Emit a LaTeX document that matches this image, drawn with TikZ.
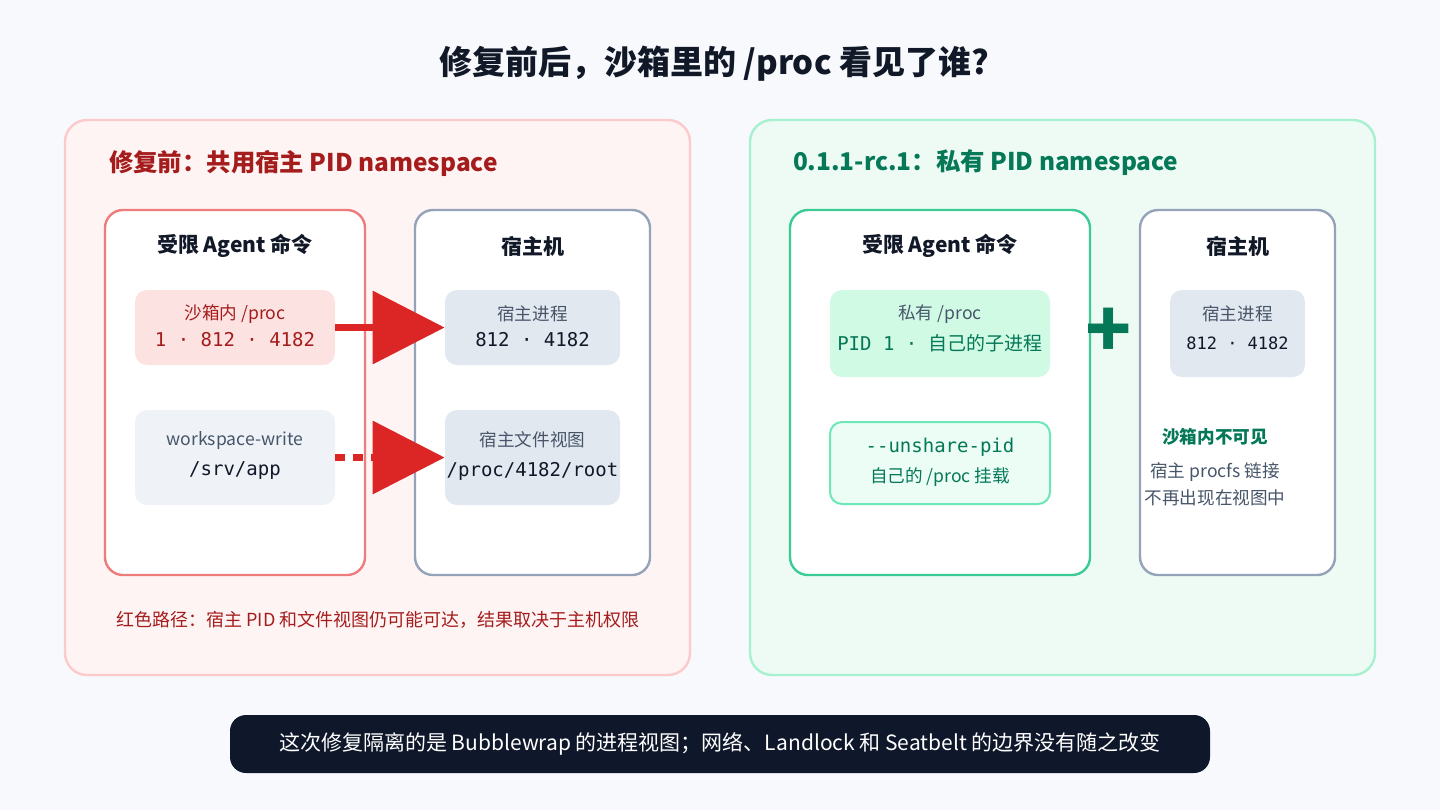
\documentclass[tikz,border=0pt]{standalone}
\usepackage{fontspec}
\setmainfont{Noto Sans CJK SC}
\setmonofont{DejaVu Sans Mono}
\usetikzlibrary{arrows.meta}
\definecolor{pagebg}{HTML}{F7F9FC}
\definecolor{inkdark}{HTML}{111827}
\definecolor{inkgray}{HTML}{475569}
\definecolor{redfill}{HTML}{FFF4F4}
\definecolor{redline}{HTML}{FCCACA}
\definecolor{redbox}{HTML}{EF7C7C}
\definecolor{redsoft}{HTML}{FDE2E2}
\definecolor{redtext}{HTML}{A51C1C}
\definecolor{redarrow}{HTML}{DC2626}
\definecolor{greenfill}{HTML}{EEFBF5}
\definecolor{greenline}{HTML}{A7F0D0}
\definecolor{greenbox}{HTML}{3CCB95}
\definecolor{greensoft}{HTML}{D1FAE5}
\definecolor{greenpale}{HTML}{ECFDF5}
\definecolor{greenedge}{HTML}{6EE7B7}
\definecolor{greentext}{HTML}{047857}
\definecolor{slateline}{HTML}{94A3B8}
\definecolor{slatesoft}{HTML}{E2E8F0}
\definecolor{slatepale}{HTML}{EFF3F8}
\definecolor{barfill}{HTML}{0F172A}
\tikzstyle{panel} = [rectangle, rounded corners=11pt, line width=1.2pt, minimum width=312.5pt, minimum height=277.5pt]
\tikzstyle{box} = [rectangle, rounded corners=9pt, line width=1.2pt, fill=white, minimum height=182.5pt]
\tikzstyle{chip} = [rectangle, rounded corners=6pt, draw=none]
\tikzstyle{heading} = [font=\fontsize{10.5}{12}\selectfont\bfseries, text=inkdark]
\tikzstyle{small} = [font=\fontsize{8.8}{10}\selectfont]
\tikzstyle{code} = [font=\fontsize{9.5}{11}\selectfont\ttfamily]
\tikzstyle{leak} = [redarrow, line width=3.5pt, -{Triangle[length=36pt, width=36pt]}]
\begin{document}
\begin{tikzpicture}[x=0.5pt, y=-0.5pt]

	% Canvas
	\fill[pagebg] (0,0) rectangle (1440,810);
	\useasboundingbox (0,0) rectangle (1440,810);
	\node (title) [font=\fontsize{16.5}{19}\selectfont\bfseries, text=inkdark] at (714,64) {修复前后，沙箱里的 /proc 看见了谁?};

	% Before the fix
	\node (before) [panel, draw=redline, fill=redfill] at (377.5,397.5) {};
	\node (beforehead) [anchor=west, font=\fontsize{12.2}{14}\selectfont\bfseries, text=redtext] at (102,163) {修复前：共用宿主 PID namespace};
	\node (agentL) [box, draw=redbox, minimum width=130pt] at (235,392.5) {};
	\node (hostL) [box, draw=slateline, minimum width=117.5pt] at (532.5,392.5) {};
	\node [heading] at (235,246) {受限 Agent 命令};
	\node [heading] at (532.5,246) {宿主机};

	\node (sbproc) [chip, fill=redsoft, minimum width=100pt, minimum height=37.5pt] at (235,327.5) {};
	\node [small, text=redtext] at (235,314) {沙箱内 /proc};
	\node [code, text=redtext] at (235,340) {1 · 812 · 4182};
	\node (wsw) [chip, fill=slatepale, minimum width=100pt, minimum height=47.5pt] at (235,457.5) {};
	\node [small, text=inkgray] at (235,440) {workspace-write};
	\node [code, text=inkdark] at (235,471) {/srv/app};

	\node (hostproc) [chip, fill=slatesoft, minimum width=87.5pt, minimum height=37.5pt] at (532.5,327.5) {};
	\node [small, text=inkgray] at (532.5,314) {宿主进程};
	\node [code, text=inkdark] at (532.5,340) {812 · 4182};
	\node (hostfile) [chip, fill=slatesoft, minimum width=87.5pt, minimum height=47.5pt] at (532.5,457.5) {};
	\node [small, text=inkgray] at (532.5,440) {宿主文件视图};
	\node [code, text=inkdark] at (532.5,471) {/proc/4182/root};

	\draw[leak] (sbproc.east) -- (hostproc.west);
	\draw[leak, dash pattern=on 5pt off 4pt] (wsw.east) -- (hostfile.west);

	\node [font=\fontsize{9}{10}\selectfont, text=redtext] at (378,620) {红色路径：宿主 PID 和文件视图仍可能可达，结果取决于主机权限};

	% After the fix
	\node (after) [panel, draw=greenline, fill=greenfill] at (1062.5,397.5) {};
	\node (afterhead) [anchor=west, font=\fontsize{12.2}{14}\selectfont\bfseries, text=greentext] at (786,163) {0.1.1-rc.1：私有 PID namespace};
	\node (agentR) [box, draw=greenbox, minimum width=150pt] at (940,392.5) {};
	\node (hostR) [box, draw=slateline, minimum width=97.5pt] at (1237.5,392.5) {};
	\node [heading] at (940,246) {受限 Agent 命令};
	\node [heading] at (1237.5,246) {宿主机};

	\node (privproc) [chip, fill=greensoft, minimum width=110pt, minimum height=43.5pt] at (940,333.5) {};
	\node [small, text=inkgray] at (940,314) {私有 /proc};
	\node [font=\fontsize{9.5}{11}\selectfont, text=greentext] at (940,343) {\ttfamily PID 1 · \rmfamily 自己的子进程};
	\node (unshare) [chip, draw=greenedge, line width=1pt, fill=greenpale, minimum width=110pt, minimum height=41pt] at (940,463) {};
	\node [code, text=greentext] at (940,447) {--unshare-pid};
	\node [small, text=greentext] at (940,477) {自己的 /proc 挂载};

	\node (plus) [font=\fontsize{38}{38}\selectfont\bfseries, text=greentext] at (1109,333) {+};

	\node (hostprocR) [chip, fill=slatesoft, minimum width=67.5pt, minimum height=43.5pt] at (1237.5,333.5) {};
	\node [small, text=inkgray] at (1237.5,314) {宿主进程};
	\node [code, font=\fontsize{8.5}{10}\selectfont\ttfamily, text=inkdark] at (1237.5,343) {812 · 4182};
	\node [font=\fontsize{8.8}{10}\selectfont\bfseries, text=greentext] at (1215,437) {沙箱内不可见};
	\node [small, text=inkgray] at (1215,472) {宿主 procfs 链接};
	\node [small, text=inkgray] at (1215,498) {不再出现在视图中};

	% Footer
	\node (footer) [rectangle, rounded corners=8pt, fill=barfill, minimum width=490pt, minimum height=29pt] at (720,744) {};
	\node [font=\fontsize{10.5}{12}\selectfont, text=white] at (720,744) {这次修复隔离的是 Bubblewrap 的进程视图；网络、Landlock 和 Seatbelt 的边界没有随之改变};

\end{tikzpicture}
\end{document}
